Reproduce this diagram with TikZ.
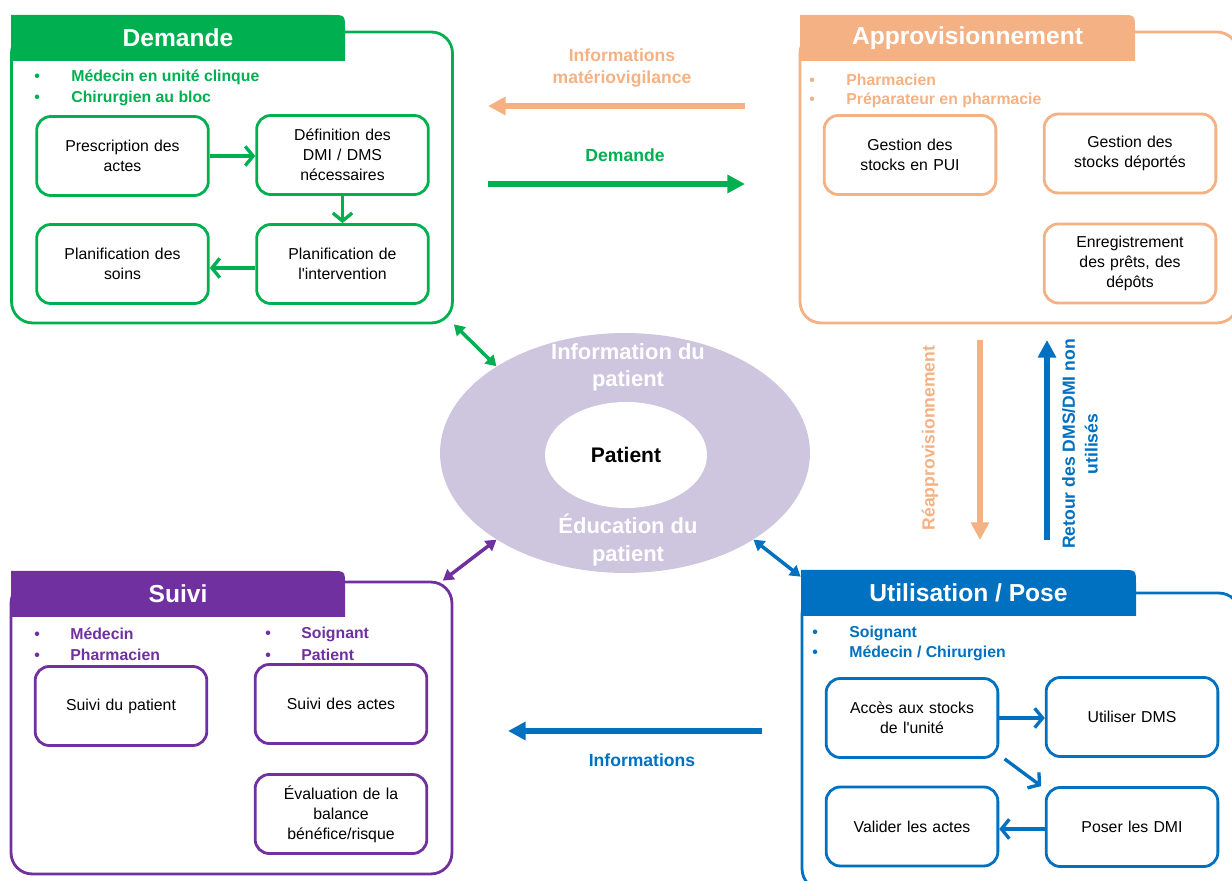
\documentclass[tikz,border=0pt]{standalone}
\usepackage{fontspec}
\setmainfont{Liberation Sans}
\usetikzlibrary{shapes.geometric, arrows.meta, positioning}
\definecolor{demgreen}{RGB}{0,176,80}
\definecolor{approrange}{RGB}{244,177,131}
\definecolor{suivipurple}{RGB}{112,48,160}
\definecolor{utilblue}{RGB}{0,112,192}
\definecolor{patientlilac}{RGB}{206,198,222}

\tikzset{
  cadre/.style={draw=#1, line width=1.6pt, rounded corners=12pt},
  entete/.style={text=white, font=\bfseries\fontsize{14}{16}\selectfont, minimum width=6.7cm, minimum height=0.92cm},
  role/.style={anchor=west, inner sep=0pt, text=#1, font=\bfseries\fontsize{9}{11}\selectfont},
  tache/.style={draw=#1, line width=1.6pt, rounded corners=8pt, minimum width=3.42cm, minimum height=1.58cm, text width=3.2cm, align=center, font=\fontsize{9}{11.3}\selectfont},
  lien/.style={draw=#1, line width=1.9pt, -{Straight Barb[length=4.5pt,width=11pt]}},
  flux/.style={draw=#1, line width=3.4pt, -{Triangle[length=10pt,width=10pt]}},
  echange/.style={draw=#1, line width=2pt, {Triangle[length=6pt,width=7pt]}-{Triangle[length=6pt,width=7pt]}},
  fluxlabel/.style={text=#1, align=center, font=\bfseries\fontsize{10}{13}\selectfont},
  anneaulabel/.style={text=white, align=center, font=\bfseries\fontsize{12.5}{15.5}\selectfont},
}

\begin{document}
\begin{tikzpicture}[x=0.02cm, y=-0.02cm]
  \useasboundingbox (0,0) rectangle (1232,881);

  % Demande
  \node [cadre=demgreen, minimum width=8.82cm, minimum height=5.82cm] (demande) at (232,177.5) {};
  \fill [demgreen] (11,61) -- (11,15) -- (331,15) .. controls (345,15) .. (345,29) -- (345,61) -- cycle;
  \node [entete] (dhead) at (178,38) {Demande};
  \node [role=demgreen] (drole1) at (34,77) {\makebox[0.74cm][l]{\textbullet}Médecin en unité clinque};
  \node [role=demgreen] (drole2) at (34,98) {\makebox[0.74cm][l]{\textbullet}Chirurgien au bloc};
  \node [tache=demgreen] (presc) at (122.5,156) {Prescription des\\actes};
  \node [tache=demgreen] (defin) at (342.5,155) {Définition des\\DMI / DMS\\nécessaires};
  \node [tache=demgreen] (plsoins) at (122.5,264) {Planification des\\soins};
  \node [tache=demgreen] (plinter) at (342.5,264) {Planification de\\l\textquotesingle intervention};
  \draw [lien=demgreen] (presc) -- (presc -| defin.west);
  \draw [lien=demgreen] (defin) -- (plinter);
  \draw [lien=demgreen] (plinter.west |- 0,268) -- (plsoins.east |- 0,268);

  % Approvisionnement
  \node [cadre=approrange, minimum width=8.76cm, minimum height=5.82cm] (appro) at (1019,177.5) {};
  \fill [approrange] (800,61) -- (800,15) -- (1121,15) .. controls (1135,15) .. (1135,29) -- (1135,61) -- cycle;
  \node [entete] (ahead) at (967.5,38) {Approvisionnement};
  \node [role=approrange] (arole1) at (809,80) {\makebox[0.74cm][l]{\textbullet}Pharmacien};
  \node [role=approrange] (arole2) at (809,100) {\makebox[0.74cm][l]{\textbullet}Préparateur en pharmacie};
  \node [tache=approrange] (pui) at (910,155) {Gestion des\\stocks en PUI};
  \node [tache=approrange] (deport) at (1130,153.5) {Gestion des\\stocks déportés};
  \node [tache=approrange] (enreg) at (1130,263.5) {Enregistrement\\des prêts, des\\dépôts};

  % Suivi
  \node [cadre=suivipurple, minimum width=8.82cm, minimum height=5.84cm] (suivi) at (231.5,728) {};
  \fill [suivipurple] (11,617) -- (11,571) -- (331,571) .. controls (345,571) .. (345,585) -- (345,617) -- cycle;
  \node [entete] (shead) at (178,594) {Suivi};
  \node [role=suivipurple] (srole1) at (34,634) {\makebox[0.72cm][l]{\textbullet}Médecin};
  \node [role=suivipurple] (srole2) at (34,655) {\makebox[0.72cm][l]{\textbullet}Pharmacien};
  \node [role=suivipurple] (srole3) at (265,634) {\makebox[0.72cm][l]{\textbullet}Soignant};
  \node [role=suivipurple] (srole4) at (265,655) {\makebox[0.72cm][l]{\textbullet}Patient};
  \node [tache=suivipurple] (spatient) at (121,706) {Suivi du patient};
  \node [tache=suivipurple] (sactes) at (341,704) {Suivi des actes};
  \node [tache=suivipurple] (evalu) at (341,814) {Évaluation de la\\balance\\bénéfice/risque};

  % Utilisation / Pose
  \node [cadre=utilblue, minimum width=8.76cm, minimum height=5.94cm] (util) at (1021,741.5) {};
  \fill [utilblue] (801,616) -- (801,570) -- (1122,570) .. controls (1136,570) .. (1136,584) -- (1136,616) -- cycle;
  \node [entete] (uhead) at (968.5,593) {Utilisation / Pose};
  \node [role=utilblue] (urole1) at (812,633) {\makebox[0.74cm][l]{\textbullet}Soignant};
  \node [role=utilblue] (urole2) at (812,653) {\makebox[0.74cm][l]{\textbullet}Médecin / Chirurgien};
  \node [tache=utilblue] (acces) at (912,718) {Accès aux stocks\\de l\textquotesingle unité};
  \node [tache=utilblue] (utildms) at (1132,717) {Utiliser DMS};
  \node [tache=utilblue] (valider) at (912,826.5) {Valider les actes};
  \node [tache=utilblue] (poser) at (1132,827) {Poser les DMI};
  \draw [lien=utilblue] (acces) -- (acces -| utildms.west);
  \draw [lien=utilblue] ([xshift=3pt]acces.south east) -- ([xshift=-2pt]poser.north west);
  \draw [lien=utilblue] (poser.west |- 0,829) -- (valider.east |- 0,829);

  % Patient
  \node [ellipse, fill=patientlilac, minimum width=7.4cm, minimum height=4.8cm] (anneau) at (625,453) {};
  \node [ellipse, fill=white, minimum width=3.24cm, minimum height=2.12cm, font=\bfseries\fontsize{12}{14}\selectfont] (patient) at (626,455) {Patient};
  \node [anneaulabel] (info) at (628,367) {Information du\\patient};
  \node [anneaulabel] (educ) at (628,540) {Éducation du\\patient};

  \draw [echange=demgreen] (demande.south east) -- (anneau.146);
  \draw [echange=suivipurple] ([xshift=-6pt]suivi.north east) -- (anneau.214);
  \draw [echange=utilblue] (anneau.-34) -- ([yshift=-4pt]uhead.north west);

  % flux entre etapes
  \coordinate (vigiD) at (745,106);
  \coordinate (vigiG) at (488,106);
  \coordinate (demG) at (488,184);
  \coordinate (demD) at (745,184);
  \coordinate (reapH) at (980,340);
  \coordinate (reapB) at (980,540);
  \coordinate (retB) at (1047,540);
  \coordinate (retH) at (1047,340);
  \coordinate (infD) at (762,731);
  \coordinate (infG) at (508,731);
  \draw [flux=approrange] (vigiD) -- (vigiG);
  \draw [flux=demgreen] (demG) -- (demD);
  \draw [flux=approrange] (reapH) -- (reapB);
  \draw [flux=utilblue] (retB) -- (retH);
  \draw [flux=utilblue] (infD) -- (infG);
  \node [fluxlabel=approrange] (vigi) at (622,68) {Informations\\matériovigilance};
  \node [fluxlabel=demgreen] (demlabel) at (625,155) {Demande};
  \node [fluxlabel=approrange, rotate=90] (reappro) at (930,438) {Réapprovisionnement};
  \node [fluxlabel=utilblue, rotate=90] (retour) at (1080,444) {Retour des DMS/DMI non\\utilisés};
  \node [fluxlabel=utilblue] (infos) at (642,760) {Informations};
\end{tikzpicture}
\end{document}
